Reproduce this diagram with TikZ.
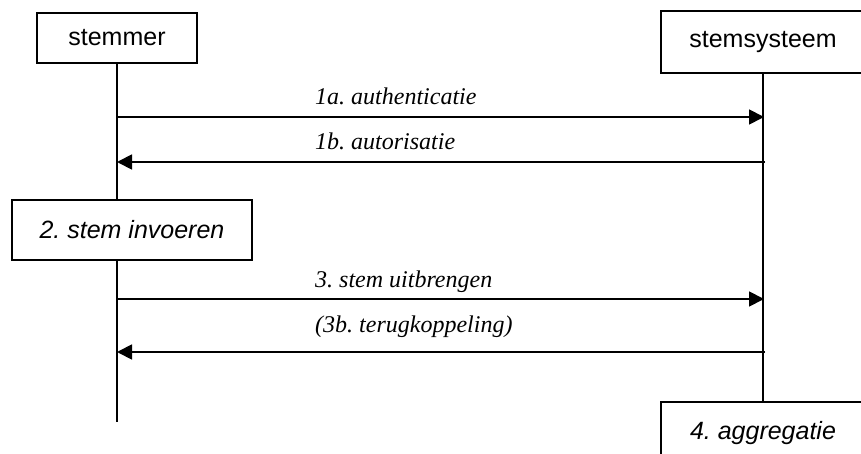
\documentclass[tikz,border=0pt]{standalone}
\usepackage{fontspec}
\setmainfont{Liberation Sans}
\newfontfamily\lblfont{Liberation Serif}
\usetikzlibrary{arrows.meta}
\frenchspacing
\tikzset{
  actor/.style={draw, line width=1.4pt, fill=white, inner sep=0pt,
    font=\fontsize{25}{30}\selectfont},
  lifeline/.style={line width=1.5pt},
  msg/.style={line width=1.8pt, -{Triangle[length=15pt,width=15pt]}},
  lbl/.style={anchor=base west, inner sep=0pt,
    font=\lblfont\itshape\fontsize{24}{28}\selectfont}
}
\begin{document}
\begin{tikzpicture}[x=1pt,y=-1pt]
\useasboundingbox (0,0) rectangle (861,454);
\clip (0,0) rectangle (861,454);
\node[actor, minimum width=160pt, minimum height=50pt] (stemmer) at (117,38) {stemmer};
\node[actor, minimum width=204pt, minimum height=62pt] (sys) at (763,42) {stemsysteem};
\node[actor, minimum width=240pt, minimum height=60pt, font=\itshape\fontsize{25}{30}\selectfont] (invoer) at (132,230) {2. stem invoeren};
\node[actor, minimum width=204pt, minimum height=62pt, font=\itshape\fontsize{25}{30}\selectfont] (agg) at (763,433) {4. aggregatie};
% lifelines
\coordinate (sEnd) at (117,422);
\draw[lifeline] (stemmer.south) -- (stemmer.south |- invoer.north);
\draw[lifeline] (stemmer.south |- invoer.south) -- (sEnd);
\draw[lifeline] (sys.south) -- (sys.south |- agg.north);
% message anchors
\coordinate (m1L) at (117,117); \coordinate (m1R) at (764,117);
\coordinate (m2L) at (117,162); \coordinate (m2R) at (765,162);
\coordinate (m3L) at (117,299); \coordinate (m3R) at (764,299);
\coordinate (m4L) at (117,352); \coordinate (m4R) at (765,352);
\draw[msg] (m1L) -- (m1R);
\draw[msg] (m2R) -- (m2L);
\draw[msg] (m3L) -- (m3R);
\draw[msg] (m4R) -- (m4L);
\node[lbl] (l1) at (315,105) {1a. authenticatie};
\node[lbl] (l2) at (315,150) {1b. autorisatie};
\node[lbl] (l3) at (315,287) {3. stem uitbrengen};
\node[lbl] (l4) at (315,332) {(3b. terugkoppeling)};
\end{tikzpicture}
\end{document}
